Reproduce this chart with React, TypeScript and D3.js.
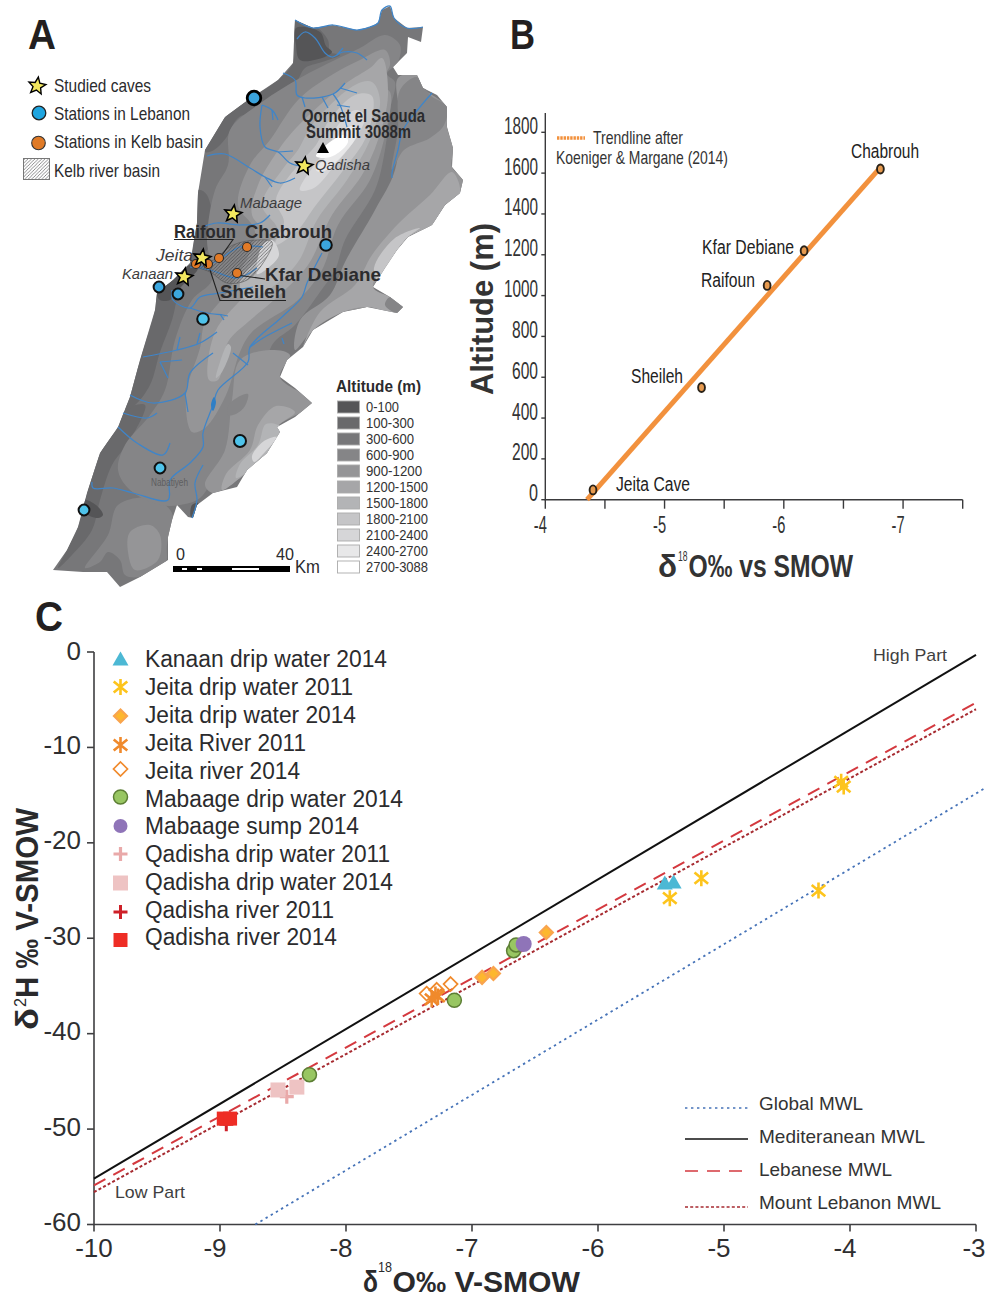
import React from "react";
import * as d3 from "d3";

type P = [number, number];
const FF = "'Liberation Sans', Arial, sans-serif";
const INK = "#2b2b2d";

// ---------- Panel C data ----------
const kanaanDrip2014: P[] = [[-5.47, -24.2], [-5.4, -24.1]];
const jeitaDrip2011: P[] = [[-5.43, -25.8], [-5.18, -23.7], [-4.25, -25.0], [-4.07, -13.6], [-4.05, -14.1]];
const jeitaDrip2014: P[] = [[-6.92, -34.1], [-6.83, -33.7], [-6.41, -29.4]];
const jeitaRiver2011: P[] = [[-7.32, -36.4], [-7.27, -36.1], [-7.29, -35.9]];
const jeitaRiver2014: P[] = [[-7.36, -35.8], [-7.28, -35.4], [-7.17, -34.8]];
const mabaageDrip2014: P[] = [[-7.14, -36.5], [-6.67, -31.3], [-6.65, -30.7], [-8.29, -44.3]];
const mabaageSump2014: P[] = [[-6.59, -30.6]];
const qadishaDrip2011: P[] = [[-8.47, -46.6]];
const qadishaDrip2014: P[] = [[-8.54, -45.9], [-8.39, -45.6]];
const qadishaRiver2011: P[] = [[-8.95, -49.5]];
const qadishaRiver2014: P[] = [[-8.97, -48.9], [-8.92, -48.9]];

const globalMWL: P[] = [[-8.72, -60], [-2.92, -14.2]];
const mediterraneanMWL: P[] = [[-10, -55.2], [-3, -0.3]];
const lebaneseMWL: P[] = [[-10, -55.9], [-3, -5.3]];
const mountLebanonMWL: P[] = [[-10, -56.6], [-3, -6.0]];

const cXTicks = [-10, -9, -8, -7, -6, -5, -4, -3];
const cYTicks = [0, -10, -20, -30, -40, -50, -60];

// ---------- Panel B data ----------
const bStations = ["Jeita Cave", "Sheileh", "Raifoun", "Kfar Debiane", "Chabrouh"];
const bDelta = [-4.4, -5.31, -5.86, -6.17, -6.81];
const bAltitude = [48, 550, 1050, 1220, 1620];
const bTrend: P[] = [[-4.35, 0], [-6.79, 1615]];
const bYTicks = [0, 200, 400, 600, 800, 1000, 1200, 1400, 1600, 1800];
const bXMajor = [-4, -5, -6, -7];
const bXMinor = [-4.5, -5.5, -6.5, -7.5];

// ---------- Panel A data ----------
const altitudeClasses = ["0-100", "100-300", "300-600", "600-900", "900-1200", "1200-1500", "1500-1800", "1800-2100", "2100-2400", "2400-2700", "2700-3088"];
const altitudeColors = ["#555557", "#69696b", "#777779", "#858587", "#959597", "#a6a6a8", "#b3b4b6", "#c5c5c7", "#d6d6d8", "#e8e8e9", "#ffffff"];

const outline: P[] = [[295,20],[313,28],[333,25],[357,30],[370,27],[378,23],[382,10],[390,6],[394,18],[407,28],[423,27],[421,42],[408,37],[407,53],[393,67],[398,75],[417,75],[423,88],[437,95],[447,107],[447,127],[453,148],[452,167],[463,180],[460,193],[445,205],[432,225],[408,237],[397,250],[385,268],[373,287],[390,297],[403,307],[397,313],[367,307],[343,312],[313,330],[303,347],[287,360],[280,377],[295,388],[312,403],[295,417],[277,427],[280,432],[267,453],[247,470],[237,487],[213,493],[197,505],[193,518],[188,517],[177,505],[172,520],[168,537],[168,560],[140,577],[120,587],[107,572],[83,572],[53,570],[67,550],[78,527],[87,493],[100,453],[118,427],[130,397],[140,360],[155,310],[157,293],[173,280],[190,263],[197,223],[198,193],[205,150],[225,117],[248,100],[278,80],[293,63]];

const band100a: P[] = [[295,20],[315,26],[328,40],[330,52],[340,55],[322,62],[305,68],[296,82],[272,96],[258,110],[238,118],[226,138],[214,150],[205,152],[225,117],[248,100],[278,80],[293,63]];
const band100b: P[] = [[198,190],[207,195],[212,240],[198,262],[180,290],[172,320],[160,352],[150,385],[135,405],[125,410],[140,360],[155,310],[157,293],[173,280],[190,263]];
const band0a: P[] = [[190,265],[198,268],[178,290],[170,300],[160,300],[157,293],[173,280]];
const band0b: P[] = [[296,28],[320,32],[326,46],[332,52],[322,58],[300,60],[296,45]];
const band0c: P[] = [[84,500],[96,505],[103,515],[98,518],[84,512]];
const band0d: P[] = [[192,505],[198,503],[197,515],[191,517]];
const west100: P[] = [[125,410],[145,405],[130,440],[112,465],[100,500],[92,530],[72,555],[58,568],[67,550],[78,527],[87,493],[100,453],[118,427]];
const south600: P[] = [[118,505],[150,498],[172,513],[167,545],[165,565],[140,577],[125,575],[120,560],[108,552],[100,562],[85,568],[108,535]];
const south900: P[] = [[130,532],[150,525],[160,535],[158,560],[135,570],[128,552]];

const north600: P[] = [[262,102],[300,78],[335,60],[360,48],[385,35],[400,45],[398,62],[387,74],[395,82],[390,110],[385,150],[375,190],[345,240],[335,270],[320,292],[295,325],[272,345],[262,385],[248,402],[240,440],[218,470],[200,498],[180,505],[160,505],[130,490],[118,470],[125,445],[150,415],[165,390],[175,340],[192,300],[212,280],[207,240],[215,190],[228,165],[230,130]];
const north900: P[] = [[298,100],[330,76],[360,60],[385,50],[390,65],[378,85],[390,92],[385,135],[370,180],[338,225],[322,270],[298,300],[252,332],[240,352],[226,395],[205,428],[192,432],[186,395],[200,348],[205,322],[230,288],[255,232],[238,205],[250,165],[270,140]];
const north1200: P[] = [[296,128],[345,84],[370,68],[382,58],[388,95],[378,140],[362,175],[332,215],[308,265],[274,300],[248,322],[228,342],[218,380],[209,380],[215,332],[250,288],[272,240],[252,215],[258,185],[275,155]];
const north1500: P[] = [[312,125],[355,85],[372,82],[380,100],[370,140],[347,180],[317,220],[298,262],[268,290],[246,300],[240,282],[278,232],[262,205],[282,170],[298,150]];
const north1800: P[] = [[328,122],[355,95],[372,96],[367,135],[342,172],[316,205],[296,232],[275,245],[284,222],[276,200],[298,165],[316,145]];
const north2100: P[] = [[336,128],[355,110],[365,115],[358,135],[335,165],[314,188],[300,190],[318,160],[330,145]];
const north2400: P[] = [[338,136],[352,126],[358,132],[342,156],[322,172],[316,170],[330,152]];
const summitWhite: P[] = [[333,140],[345,135],[348,142],[335,155],[324,158],[316,156],[324,147]];
const kelbLight: P[] = [[262,246],[272,240],[279,255],[268,268],[257,274]];
const bekaaStrip: P[] = [[228,344],[231,347],[222,372],[216,378],[220,362]];

const east900: P[] = [[423,88],[447,107],[447,127],[453,148],[452,167],[463,180],[460,193],[432,225],[408,237],[373,287],[367,307],[343,312],[313,330],[295,350],[300,320],[330,295],[345,262],[375,210],[395,170],[400,120],[398,78],[417,75]];
const eastDark: P[] = [[392,170],[398,130],[400,90],[417,77],[430,95],[447,107],[444,125],[430,138],[404,150]];
const east1200: P[] = [[460,193],[445,205],[432,225],[408,237],[397,250],[373,287],[390,297],[403,307],[397,313],[367,307],[343,312],[313,330],[303,347],[320,312],[355,285],[372,255],[400,222],[430,195],[452,172]];
const east1800: P[] = [[408,237],[397,250],[378,280],[374,268],[395,238],[420,228]];
const east600b: P[] = [[390,297],[403,307],[397,313],[385,305]];

const hermon900: P[] = [[240,360],[270,350],[290,355],[280,377],[312,403],[277,427],[267,453],[240,478],[213,493],[205,485],[225,450],[232,400]];
const hermon1200: P[] = [[295,412],[277,427],[267,453],[240,478],[222,490],[226,474],[250,450],[258,425],[276,406]];
const hermon1500: P[] = [[282,428],[267,453],[247,472],[236,478],[240,464],[258,445],[266,424]];
const hermon2100: P[] = [[277,437],[265,452],[254,462],[252,456],[264,441]];
const hermonDarkRing: P[] = [[240,396],[248,394],[245,406],[236,414],[228,415],[229,405]];

const rivers: P[][] = [
  [[295,20],[313,28],[333,25],[357,30],[370,27],[378,23],[382,10],[390,6],[394,18],[407,28],[423,27]],
  [[297,39],[305,32],[315,38],[325,53],[332,57],[343,52],[357,53],[367,60]],[[337,55],[343,48]],
  [[283,73],[295,80],[297,95],[305,98],[333,94],[345,83]],[[340,88],[357,93]],[[322,97],[328,108]],[[333,94],[340,105],[347,127]],[[337,105],[350,107]],[[302,97],[305,107]],
  [[262,105],[272,110],[278,120]],[[272,110],[273,120]],[[262,105],[260,127],[265,147],[278,152],[290,163],[300,166]],[[278,152],[293,151]],
  [[207,156],[225,154],[250,168],[265,177],[280,183],[295,178]],[[265,177],[272,187]],
  [[432,93],[420,107],[403,130],[398,150],[392,173],[392,178]],
  [[205,226],[217,223],[240,225],[260,223],[270,215]],
  [[196,268],[215,262],[240,247],[263,247]],[[190,267],[210,270],[237,278],[257,268]],
  [[172,290],[173,300],[190,308],[200,297],[220,293],[253,287]],[[190,308],[207,313],[223,315],[228,316]],[[220,314],[224,320]],
  [[322,253],[307,283],[302,297],[282,317],[250,347],[248,362],[218,390],[213,405],[203,433],[203,447],[190,463],[170,480],[168,500],[133,493],[113,488],[93,488],[92,482]],
  [[292,323],[263,338],[250,347]],[[282,338],[284,344]],[[233,353],[248,365]],
  [[143,357],[177,350],[200,343],[217,332]],[[180,337],[177,350]],[[200,333],[197,344]],[[160,362],[182,360]],[[160,362],[168,378]],
  [[213,353],[190,373],[185,393],[153,403],[130,395]],[[185,393],[188,412]],
  [[123,413],[147,418],[157,413]],
  [[118,427],[137,443],[163,455],[170,443]],
  [[203,465],[195,483],[197,500],[192,518]],
];
const lake: P[] = [[214,397],[216,402],[213,411],[211,405]];
const kelbBasin: P[] = [[192,265],[210,262],[233,245],[257,240],[272,242],[265,260],[247,280],[227,283],[210,272]];

const lebanonStations: P[] = [[326,245],[159,287],[178,294],[203,319],[160,468],[84,510]];
const kelbStations: P[] = [[247,247],[219,258],[208,264],[196,264],[237,273]];
const caves: P[] = [[304,166],[233,214],[202,258],[184,277]];

// ---------- Scales ----------
const cx = d3.scaleLinear().domain([-10, -3]).range([94, 976]);
const cy = d3.scaleLinear().domain([0, -60]).range([652, 1224.5]);
const bx = d3.scaleLinear().domain([-4, -7.5]).range([545.3, 962.7]);
const by = d3.scaleLinear().domain([0, 1800]).range([499.7, 132.3]);

const closedSmooth = d3.line<P>().curve(d3.curveCatmullRomClosed.alpha(0.5));
const closedLinear = d3.line<P>().curve(d3.curveLinearClosed);
const open = d3.line<P>().curve(d3.curveCatmullRom.alpha(0.5));

const T = ({ x, y, w, s, b, i, a, f, rot, children }: any) => (
  <text
    x={x}
    y={y}
    fontFamily={FF}
    fontSize={s}
    fontWeight={b ? 700 : 400}
    fontStyle={i ? "italic" : "normal"}
    textAnchor={a || "start"}
    fill={f || INK}
    textLength={w}
    lengthAdjust={w ? "spacingAndGlyphs" : undefined}
    transform={rot ? `rotate(-90 ${x} ${y})` : undefined}
  >
    {children}
  </text>
);

// symbols
const star = (cxx: number, cyy: number, r: number) => {
  const pts: P[] = d3.range(10).map((k) => {
    const rad = k % 2 ? r * 0.45 : r;
    const ang = (k * Math.PI) / 5 - Math.PI / 2 + 0.15;
    return [cxx + rad * Math.cos(ang), cyy + rad * Math.sin(ang)];
  });
  return closedLinear(pts) as string;
};
const sym = (type: any, size: number) => d3.symbol().type(type).size(size)() as string;
const asteriskPath = (r: number) => {
  const p = d3.path();
  p.moveTo(0, -r); p.lineTo(0, r);
  p.moveTo(-r * 0.85, -r * 0.7); p.lineTo(r * 0.85, r * 0.7);
  p.moveTo(-r * 0.85, r * 0.7); p.lineTo(r * 0.85, -r * 0.7);
  return p.toString();
};
const plusPath = (r: number) => {
  const p = d3.path();
  p.moveTo(0, -r); p.lineTo(0, r);
  p.moveTo(-r, 0); p.lineTo(r, 0);
  return p.toString();
};

type Marker = { d: string; fill: string; stroke: string; sw: number };
const mTri: Marker = { d: "M0,-7.5L8,6.5L-8,6.5Z", fill: "#4cb8d4", stroke: "none", sw: 0 };
const mYel: Marker = { d: asteriskPath(8), fill: "none", stroke: "#fdc41c", sw: 2.6 };
const mDia: Marker = { d: "M0,-6.5L6.5,0L0,6.5L-6.5,0Z", fill: "#fdb72e", stroke: "#f9a44e", sw: 2.2 };
const mOrg: Marker = { d: asteriskPath(8), fill: "none", stroke: "#f08a2c", sw: 2.6 };
const mOpen: Marker = { d: "M0,-7L7,0L0,7L-7,0Z", fill: "none", stroke: "#f08a2c", sw: 1.7 };
const mGrn: Marker = { d: sym(d3.symbolCircle, Math.PI * 49), fill: "#98c662", stroke: "#5d7f35", sw: 1.5 };
const mPur: Marker = { d: sym(d3.symbolCircle, Math.PI * 49), fill: "#8f74b8", stroke: "none", sw: 0 };
const mPlusP: Marker = { d: plusPath(7), fill: "none", stroke: "#e9a9a9", sw: 3.2 };
const mSqP: Marker = { d: sym(d3.symbolSquare, 225), fill: "#eec3c3", stroke: "none", sw: 0 };
const mPlusR: Marker = { d: plusPath(7), fill: "none", stroke: "#ce2028", sw: 3 };
const mSqR: Marker = { d: sym(d3.symbolSquare, 196), fill: "#ee2d25", stroke: "none", sw: 0 };

const seriesC: { name: string; pts: P[]; m: Marker; w: number; ly: number; by: number }[] = [
  { name: "Kanaan drip water 2014", pts: kanaanDrip2014, m: mTri, w: 242, ly: 659, by: 667 },
  { name: "Jeita drip water 2011", pts: jeitaDrip2011, m: mYel, w: 208, ly: 687, by: 695 },
  { name: "Jeita drip water 2014", pts: jeitaDrip2014, m: mDia, w: 211, ly: 716, by: 723 },
  { name: "Jeita River 2011", pts: jeitaRiver2011, m: mOrg, w: 161, ly: 745, by: 751 },
  { name: "Jeita river 2014", pts: jeitaRiver2014, m: mOpen, w: 155, ly: 769, by: 779 },
  { name: "Mabaage drip water 2014", pts: mabaageDrip2014, m: mGrn, w: 258, ly: 797, by: 807 },
  { name: "Mabaage sump 2014", pts: mabaageSump2014, m: mPur, w: 214, ly: 826, by: 834 },
  { name: "Qadisha drip water 2011", pts: qadishaDrip2011, m: mPlusP, w: 245, ly: 854, by: 862 },
  { name: "Qadisha drip water 2014", pts: qadishaDrip2014, m: mSqP, w: 248, ly: 883, by: 890 },
  { name: "Qadisha river 2011", pts: qadishaRiver2011, m: mPlusR, w: 189, ly: 912, by: 918 },
  { name: "Qadisha river 2014", pts: qadishaRiver2014, m: mSqR, w: 192, ly: 940, by: 945 },
];

const MarkerG = ({ m, x, y, k }: { m: Marker; x: number; y: number; k?: number }) => (
  <path d={m.d} transform={`translate(${x},${y}) scale(${k || 1})`} fill={m.fill} stroke={m.stroke} strokeWidth={m.sw} />
);

const mwlLines = [
  { name: "Global MWL", pts: globalMWL, stroke: "#4673b8", sw: 1.8, dash: "2.4 3.6", ly: 1108, ty: 1110, tw: 104 },
  { name: "Mediteranean MWL", pts: mediterraneanMWL, stroke: "#111", sw: 2, dash: undefined, ly: 1139, ty: 1143, tw: 166 },
  { name: "Lebanese MWL", pts: lebaneseMWL, stroke: "#d4393f", sw: 2, dash: "13 9", ly: 1171, ty: 1176, tw: 133 },
  { name: "Mount Lebanon MWL", pts: mountLebanonMWL, stroke: "#a62a30", sw: 2, dash: "3 2.2", ly: 1207, ty: 1209, tw: 182 },
];

const bLabels: Record<string, { x: number; y: number; w: number }> = {
  "Jeita Cave": { x: 616, y: 491, w: 74 },
  Sheileh: { x: 631, y: 383, w: 52 },
  Raifoun: { x: 701, y: 287, w: 54 },
  "Kfar Debiane": { x: 702, y: 254, w: 92 },
  Chabrouh: { x: 851, y: 158, w: 68 },
};

const Bands = () => {
  const c = altitudeColors;
  const layers: [P[], string][] = [
    [west100, c[1]], [band100a, c[1]], [band100b, c[1]], [band0a, c[0]], [band0b, c[0]], [band0c, c[0]], [band0d, c[0]],
    [south600, c[3]], [south900, c[4]],
    [north600, c[3]], [north900, c[4]], [north1200, c[5]], [north1500, c[6]], [north1800, c[7]], [north2100, c[8]], [north2400, c[9]], [summitWhite, c[10]],
    [kelbLight, c[8]], [bekaaStrip, c[6]],
    [east900, c[4]], [eastDark, c[3]], [east1200, c[5]], [east1800, c[7]], [east600b, c[3]],
    [hermon900, c[4]], [hermon1200, c[5]], [hermon1500, c[6]], [hermon2100, c[8]], [hermonDarkRing, c[3]],
  ];
  return (
    <g clipPath="url(#mapClip)">
      {layers.map(([pts, col], i) => (
        <path key={i} d={closedSmooth(pts) as string} fill={col} />
      ))}
    </g>
  );
};

export default function App() {
  return (
    <div style={{ position: "absolute", left: 0, top: 0 }}>
      <svg width={986} height={1298} viewBox="0 0 986 1298" style={{ display: "block", background: "#fff" }}>
        <defs>
          <clipPath id="mapClip"><path d={closedLinear(outline) as string} /></clipPath>
          <pattern id="hatch" patternUnits="userSpaceOnUse" width={3.4} height={3.4}>
            <path d="M-1,1L1,-1M0,3.4L3.4,0M2.4,4.4L4.4,2.4" stroke="#3c3c3e" strokeWidth={0.6} />
          </pattern>
        </defs>

        {/* ---------- Panel A ---------- */}
        <T x={28} y={49} s={42} b f="#231f20" w={28}>A</T>
        <path d={closedLinear(outline) as string} fill={altitudeColors[2]} />
        <Bands />
        <g fill="none" stroke="#3f85c9" strokeWidth={1.25}>
          {rivers.map((r, i) => <path key={i} d={open(r) as string} />)}
        </g>
        <path d={closedSmooth(lake) as string} fill="#2f7fc6" />
        <T x={151} y={486} w={37} s={10} f="#5e5e60">Nabatiyeh</T>

        <path d={closedSmooth(kelbBasin) as string} fill="url(#hatch)" stroke="#555" strokeWidth={0.6} />
        <g fill="none" stroke="#222" strokeWidth={1.1}>
          <path d="M174,239.5H233L222,255" />
          <path d="M286,300.5H220L210,270" />
          <path d="M237,275L265,279" />
        </g>

        <path d="M323,142L329,153L317,153Z" fill="#000" />
        <g>
          <circle cx={254} cy={98} r={6.8} fill="#3ba3dc" stroke="#000" strokeWidth={2.8} />
          {lebanonStations.map(([x, y], i) => (
            <circle key={i} cx={x} cy={y} r={i === 0 || i === 3 ? 5.8 : 5.4} fill={i >= 3 ? "#4fc3ea" : "#3ba6de"} stroke="#111" strokeWidth={2} />
          ))}
          <circle cx={240} cy={441} r={6} fill="#4fc3ea" stroke="#111" strokeWidth={2} />
          {kelbStations.map(([x, y], i) => (
            <circle key={i} cx={x} cy={y} r={4.5} fill="#e27a26" stroke="#2a2a2a" strokeWidth={1.1} />
          ))}
          {caves.map(([x, y], i) => (
            <path key={i} d={star(x, y, 9)} fill="#f3e85f" stroke="#000" strokeWidth={1.6} strokeLinejoin="miter" />
          ))}
        </g>

        <T x={302} y={122} w={123} s={19} b>Qornet el Saouda</T>
        <T x={306} y={138} w={105} s={19} b>Summit 3088m</T>
        <T x={315} y={170} w={55} s={15} i f="#3c3c3e">Qadisha</T>
        <T x={240} y={208} w={62} s={15} i f="#3c3c3e">Mabaage</T>
        <T x={156} y={261} w={37} s={17} i f="#3c3c3e">Jeita</T>
        <T x={122} y={279} w={51} s={15} i f="#3c3c3e">Kanaan</T>
        <T x={174} y={238} w={62} s={19} b>Raifoun</T>
        <T x={245} y={238} w={87} s={19} b>Chabrouh</T>
        <T x={265} y={281} w={116} s={19} b>Kfar Debiane</T>
        <T x={220} y={298} w={66} s={19} b>Sheileh</T>

        <path d={star(37, 86, 9)} fill="#f3e85f" stroke="#000" strokeWidth={1.4} />
        <circle cx={39} cy={113} r={6.8} fill="#1ea5e0" stroke="#222" strokeWidth={1.3} />
        <circle cx={38.5} cy={143} r={6.8} fill="#e07a26" stroke="#333" strokeWidth={1.1} />
        <rect x={23.5} y={158.5} width={26} height={21} fill="url(#hatch)" stroke="#777" strokeWidth={1} />
        <T x={54} y={92} w={97} s={19}>Studied caves</T>
        <T x={54} y={120} w={136} s={19}>Stations in Lebanon</T>
        <T x={54} y={148} w={149} s={19}>Stations in Kelb basin</T>
        <T x={54} y={177} w={106} s={19}>Kelb river basin</T>

        <T x={336} y={392} w={85} s={16} b>Altitude (m)</T>
        {altitudeClasses.map((lab, i) => {
          const yc = 407 + i * 16;
          return (
            <g key={lab}>
              <rect x={337.5} y={yc - 6} width={22} height={12} fill={altitudeColors[i]} stroke="#aaa" strokeWidth={0.9} />
              <T x={366} y={yc + 5} s={14.5} w={[33, 48, 48, 48, 56, 62, 62, 62, 62, 62, 62][i]} f="#333">{lab}</T>
            </g>
          );
        })}
        <rect x={173} y={566} width={117} height={6} fill="#000" />
        <g fill="#fff">
          <rect x={182} y={568} width={5} height={2} />
          <rect x={197} y={568} width={5} height={2} />
          <rect x={232} y={568} width={27} height={2} />
        </g>
        <T x={176} y={560} s={17} w={9}>0</T>
        <T x={276} y={560} s={17} w={18}>40</T>
        <T x={295} y={573} s={19} w={25}>Km</T>

        {/* ---------- Panel B ---------- */}
        <T x={510} y={49} s={42} b f="#231f20" w={25}>B</T>
        <g stroke="#3a3a3c" strokeWidth={1.4} fill="none">
          <path d={`M${bx(-4)},113V${by(0)}H${bx(-7.5)}`} />
          {bYTicks.map((t) => <path key={t} d={`M${bx(-4) - 4},${by(t)}H${bx(-4)}`} />)}
          {[...bXMajor, ...bXMinor].map((t) => <path key={t} d={`M${bx(t)},${by(0)}v9`} />)}
        </g>
        {bYTicks.map((t) => (
          <T key={t} x={538} y={by(t) + 1.5} s={24} a="end" w={t === 0 ? 9 : t < 1000 ? 26 : 34} f="#333">{t}</T>
        ))}
        {bXMajor.map((t) => (
          <T key={t} x={bx(t) - 5} y={533} s={24} a="middle" w={13} f="#333">{t}</T>
        ))}
        <T x={492.5} y={395} s={31} b rot w={172} f="#333">Altitude (m)</T>
        <T x={658} y={577} s={32} b w={19} f="#333">δ</T>
        <T x={678} y={561} s={15} w={9.5} f="#333">18</T>
        <T x={688.5} y={577} s={32} b w={164.5} f="#333">O‰ vs SMOW</T>

        <path d={d3.line<P>().x((d) => bx(d[0])).y((d) => by(d[1]))(bTrend) as string} stroke="#f2913d" strokeWidth={5} fill="none" />
        <line x1={557} x2={585} y1={138} y2={138} stroke="#f2913d" strokeWidth={3.4} strokeDasharray="2.4 0.9" />
        <T x={593} y={143.5} s={19} w={90} f="#333">Trendline after</T>
        <T x={556} y={164} s={19} w={172} f="#333">Koeniger &amp; Margane (2014)</T>
        {bStations.map((name, i) => (
          <g key={name}>
            <ellipse cx={bx(bDelta[i])} cy={by(bAltitude[i])} rx={3.4} ry={4.5} fill="#e69a4f" stroke="#2a2218" strokeWidth={1.9} />
            <T x={bLabels[name].x} y={bLabels[name].y} s={20} w={bLabels[name].w} f="#222">{name}</T>
          </g>
        ))}

        {/* ---------- Panel C ---------- */}
        <T x={35} y={631} s={42} b f="#231f20" w={28}>C</T>
        <g stroke="#3f3f41" strokeWidth={1.6} fill="none">
          <path d={`M${cx(-10)},${cy(0)}V${cy(-60)}H${cx(-3)}`} />
          {cYTicks.map((t) => <path key={t} d={`M${cx(-10) - 7},${cy(t)}H${cx(-10)}`} />)}
          {cXTicks.map((t) => <path key={t} d={`M${cx(t)},${cy(-60)}v7`} />)}
        </g>
        {cYTicks.map((t) => (
          <T key={t} x={81} y={cy(t) + (t === 0 ? 8 : 6.5)} s={26} a="end" f="#2e2e30">{t}</T>
        ))}
        {cXTicks.map((t) => (
          <T key={t} x={cx(t) - (t === -10 ? 0 : t === -3 ? 2 : 5)} y={1257} s={26} a="middle" f="#2e2e30">{t}</T>
        ))}
        <T x={38} y={1030} s={32} b rot w={22} f="#2a2a2c">δ</T>
        <T x={26} y={1007} s={16} rot w={9} f="#2a2a2c">2</T>
        <T x={38} y={998} s={32} b rot w={190} f="#2a2a2c">H ‰ V-SMOW</T>
        <T x={363} y={1291.5} s={29} b w={15} f="#2a2a2c">δ</T>
        <T x={378} y={1272} s={15} w={14} f="#2a2a2c">18</T>
        <T x={392.5} y={1291.5} s={29} b w={187.5} f="#2a2a2c">O‰ V-SMOW</T>

        {mwlLines.map((l) => (
          <g key={l.name}>
            <path
              d={d3.line<P>().x((d) => cx(d[0])).y((d) => cy(d[1]))(l.pts) as string}
              stroke={l.stroke}
              strokeWidth={l.sw}
              strokeDasharray={l.dash}
              fill="none"
            />
            <line x1={685} x2={748} y1={l.ly} y2={l.ly} stroke={l.stroke} strokeWidth={l.sw - 0.3} strokeDasharray={l.dash} />
            <T x={759} y={l.ty} s={19} w={l.tw} f="#333">{l.name}</T>
          </g>
        ))}
        <T x={873} y={661} s={17} w={74} f="#3f3f41">High Part</T>
        <T x={115} y={1198} s={17} w={70} f="#3f3f41">Low Part</T>

        {seriesC.map((s) => (
          <g key={s.name}>
            {s.pts.map(([a, b], i) => (
              <MarkerG key={i} m={s.m} x={cx(a)} y={cy(b)} k={s.name === "Mabaage sump 2014" ? 1.15 : 1} />
            ))}
            <MarkerG m={s.m} x={120.5} y={s.ly} />
            <T x={145} y={s.by} s={23} w={s.w} f="#2b2b2d">{s.name}</T>
          </g>
        ))}
      </svg>
    </div>
  );
}
